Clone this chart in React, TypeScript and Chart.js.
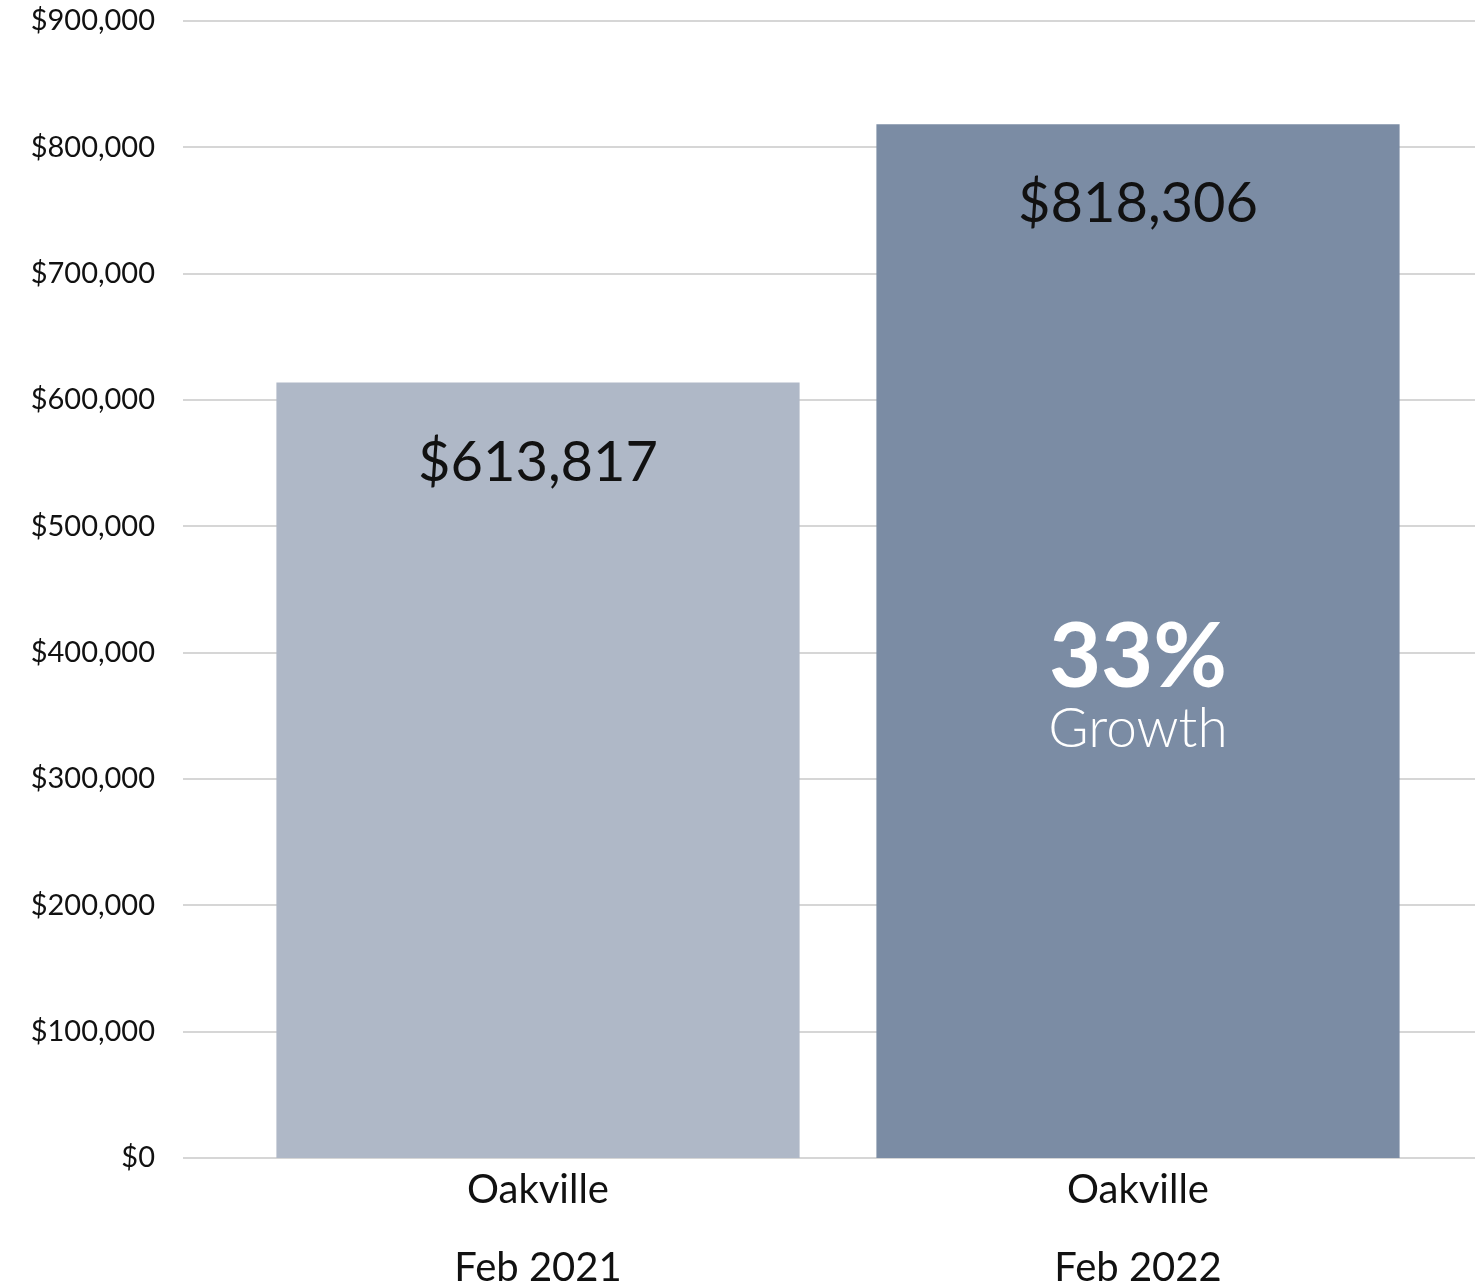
import React, { useEffect, useRef } from "react";
import { Chart, registerables } from "chart.js";

Chart.register(...registerables);

const categories: string[][] = [
  ["Oakville", "Feb 2021"],
  ["Oakville", "Feb 2022"],
];
const values: number[] = [613817, 818306];
const barColors: string[] = ["#afb8c7", "#7b8ca4"];
const valueLabels: string[] = ["$613,817", "$818,306"];
const growthPct = "33%";
const growthText = "Growth";
const yMax = 900000;
const yStep = 100000;

const FONT = "Lato, 'Noto Sans', sans-serif";

const gridPlugin = {
  id: "wideGrid",
  beforeDatasetsDraw(chart: any) {
    const ctx = chart.ctx;
    const y = chart.scales.y;
    const left = chart.chartArea.left - 55;
    const right = chart.width;
    ctx.save();
    ctx.strokeStyle = "#d6d6d6";
    ctx.lineWidth = 2;
    y.ticks.forEach((t: any) => {
      const py = Math.round(y.getPixelForValue(t.value));
      ctx.beginPath();
      ctx.moveTo(left, py);
      ctx.lineTo(right, py);
      ctx.stroke();
    });
    ctx.restore();
  },
};

const labelPlugin = {
  id: "barLabels",
  afterDatasetsDraw(chart: any) {
    const ctx = chart.ctx;
    const meta = chart.getDatasetMeta(0);
    const yScale = chart.scales.y;
    ctx.save();
    ctx.textAlign = "center";
    ctx.textBaseline = "middle";
    meta.data.forEach((bar: any, i: number) => {
      ctx.fillStyle = "#111111";
      ctx.font = `400 56px ${FONT}`;
      ctx.fillText(valueLabels[i], bar.x, bar.y + 80);
    });
    const b2 = meta.data[1];
    ctx.fillStyle = "#ffffff";
    ctx.font = `700 90px ${FONT}`;
    ctx.fillText(growthPct, b2.x, yScale.getPixelForValue(396000));
    ctx.font = `300 55px ${FONT}`;
    ctx.fillText(growthText, b2.x, yScale.getPixelForValue(339000));
    ctx.restore();
  },
};

export default function App() {
  const ref = useRef<HTMLCanvasElement | null>(null);
  useEffect(() => {
    document.body.style.margin = "0";
    const chart = new Chart(ref.current as HTMLCanvasElement, {
      type: "bar",
      data: {
        labels: categories,
        datasets: [
          {
            data: values,
            backgroundColor: barColors,
            barPercentage: 1,
            categoryPercentage: 0.872,
          },
        ],
      },
      options: {
        animation: false,
        responsive: false,
        maintainAspectRatio: false,
        layout: { padding: { top: 21, right: 37, left: 0, bottom: 0 } },
        plugins: { legend: { display: false }, tooltip: { enabled: false } },
        scales: {
          x: {
            grid: { display: false, drawTicks: false },
            border: { display: false },
            ticks: {
              color: "#111111",
              font: { family: FONT, size: 40, lineHeight: 1.95 },
              padding: -7,
            },
            afterFit: (s: any) => {
              s.height = 129;
            },
          },
          y: {
            min: 0,
            max: yMax,
            grid: { display: false, drawTicks: false },
            border: { display: false },
            ticks: {
              stepSize: yStep,
              color: "#111111",
              padding: 83,
              font: { family: FONT, size: 29 },
              callback: (v: any) => "$" + Number(v).toLocaleString("en-US"),
            },
            afterFit: (s: any) => {
              s.width = 238;
              s.paddingTop = 0;
              s.paddingBottom = 0;
            },
          },
        },
      },
      plugins: [gridPlugin, labelPlugin],
    });
    return () => chart.destroy();
  }, []);
  return (
    <div style={{ width: 1475, height: 1287 }}>
      <canvas ref={ref} width={1475} height={1287} style={{ width: 1475, height: 1287, display: "block" }} />
    </div>
  );
}
